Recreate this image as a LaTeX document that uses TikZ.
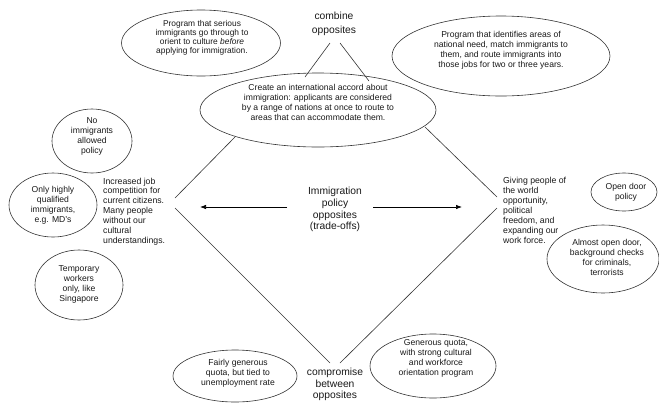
\documentclass[tikz,border=0pt]{standalone}
\usepackage{fontspec}
\setmainfont{Liberation Sans}
\usetikzlibrary{shapes.geometric,arrows.meta}
\begin{document}
\begin{tikzpicture}[x=1pt,y=-1pt,
 oval/.style={draw=black!80,line width=0.6pt,ellipse,inner sep=0pt},
 small/.style={font=\fontsize{8.6}{10}\selectfont,align=center,inner sep=0pt,text=black!90},
 big/.style={font=\fontsize{10.3}{11.7}\selectfont,align=center,inner sep=0pt,text=black!90},
 side/.style={font=\fontsize{8.7}{9.9}\selectfont,align=left,inner sep=0pt,anchor=west,text=black!90},
 conn/.style={draw=black!80,line width=0.6pt},
 arr/.style={draw=black,line width=0.7pt,-{Latex[length=6pt,width=4.5pt]}}]
\useasboundingbox (0,0) rectangle (659,405);

% ellipses
\node[oval,minimum width=159pt,minimum height=66pt] (e1) at (201,43) {};
\node[small,font=\fontsize{8.4}{9.2}\selectfont] (t1) at (202,38) {Program that serious\\immigrants go through to\\orient to culture \textit{before}\\applying for immigration.};

\node[oval,minimum width=218pt,minimum height=80pt] (e2) at (501,56) {};
\node[small] (t2) at (501,50.5) {Program that identifies areas of\\national need, match immigrants to\\them, and route immigrants into\\those jobs for two or three years.};

\node[oval,minimum width=236pt,minimum height=74pt] (ce) at (318,110) {};
\node[small] (tc) at (318,102.5) {Create an international accord about\\immigration: applicants are considered\\by a range of nations at once to route to\\areas that can accommodate them.};

\node[oval,minimum width=80pt,minimum height=64pt] (e4) at (92,141) {};
\node[small] (t4) at (92,136.5) {No\\immigrants\\allowed\\policy};

\node[oval,minimum width=88pt,minimum height=64pt] (e5) at (53,205) {};
\node[small] (t5) at (53,205) {Only highly\\qualified\\immigrants,\\e.g. MD's};

\node[oval,minimum width=88pt,minimum height=70pt] (e6) at (79,285) {};
\node[small] (t6) at (79,284) {Temporary\\workers\\only, like\\Singapore};

\node[oval,minimum width=66pt,minimum height=38pt] (e7) at (624,192) {};
\node[small] (t7) at (626,192) {Open door\\policy};

\node[oval,minimum width=112pt,minimum height=68pt] (e8) at (603,259) {};
\node[small] (t8) at (607,257) {Almost open door,\\background checks\\for criminals,\\terrorists};

\node[oval,minimum width=124pt,minimum height=52pt] (e9) at (235,376) {};
\node[small] (t9) at (238,373) {Fairly generous\\quota, but tied to\\unemployment rate};

\node[oval,minimum width=126pt,minimum height=64pt] (e10) at (433,366) {};
\node[small] (t10) at (436,358) {Generous quota,\\with strong cultural\\and workforce\\orientation program};

% labels
\node[big,font=\fontsize{10.3}{14}\selectfont] (comb) at (334,24) {combine\\opposites};
\node[big] (imm) at (335,209.5) {Immigration\\policy\\opposites\\(trade-offs)};
\node[big] (comp) at (335,384.5) {compromise\\between\\opposites};

\node[side] (lt) at (103,211.5) {Increased job\\competition for\\current citizens.\\Many people\\without our\\cultural\\understandings.};
\node[side] (rt) at (503,210.5) {Giving people of\\the world\\opportunity,\\political\\freedom, and\\expanding our\\work force.};

% diamond coordinates
\coordinate (T1) at (330,43);
\coordinate (T1e) at (305,77);
\coordinate (T2) at (340,43);
\coordinate (T2e) at (369,81);
\coordinate (L1e) at (235,137);
\coordinate (L1) at (175,198);
\coordinate (L2) at (175,208);
\coordinate (B1) at (330,363);
\coordinate (B2) at (340,363);
\coordinate (R2) at (497,208);
\coordinate (R1) at (497,197);
\coordinate (R1e) at (425,127);

\draw[conn] (T1) -- (T1e);
\draw[conn] (T2) -- (T2e);
\draw[conn] (L1e) -- (L1);
\draw[conn] (L2) -- (B1);
\draw[conn] (B2) -- (R2);
\draw[conn] (R1) -- (R1e);

% arrows
\coordinate (als) at (287,207);
\coordinate (ale) at (200,207);
\coordinate (ars) at (373,207);
\coordinate (are) at (462,207);
\draw[arr] (als) -- (ale);
\draw[arr] (ars) -- (are);
\end{tikzpicture}
\end{document}
